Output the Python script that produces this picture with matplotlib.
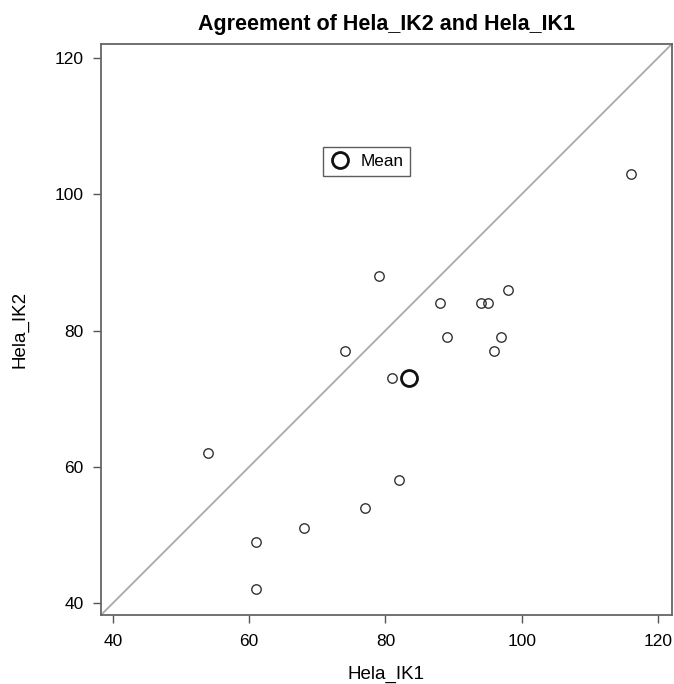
import matplotlib
matplotlib.use("Agg")
import matplotlib.pyplot as plt
from matplotlib.lines import Line2D

# values
hela_ik1 = [54, 61, 61, 68, 74, 77, 79, 81, 82, 88, 89, 94, 95, 96, 97, 98, 116]
hela_ik2 = [62, 49, 42, 51, 77, 54, 88, 73, 58, 84, 79, 84, 84, 77, 79, 86, 103]
mean_ik1 = 83.4
mean_ik2 = 73.0
ticks = [40, 60, 80, 100, 120]

plt.rcParams['font.family'] = ['Liberation Sans', 'DejaVu Sans']

fig = plt.figure(figsize=(6.74, 6.84), dpi=100)
ax = fig.add_axes([0.1499, 0.1009, 0.8464, 0.8343])

lo, hi = 38.25, 122.0
ax.set_xlim(lo, hi)
ax.set_ylim(lo, hi)

# line of agreement
ax.axline((lo, lo), slope=1, color='#aaaaaa', lw=1.3, zorder=1)

ax.plot(hela_ik1, hela_ik2, 'o', ms=6.8, mfc='none', mec='#333333', mew=1.0, zorder=3)
ax.plot([mean_ik1], [mean_ik2], 'o', ms=11.5, mfc='none', mec='#111111', mew=2.0, zorder=4)

handle = Line2D([], [], ls='none', marker='o', ms=11.5, mfc='none', mec='#111111', mew=2.0)
leg = ax.legend([handle], ['Mean'], loc='center', bbox_to_anchor=(0.465, 0.795),
                fontsize=12.3, frameon=True, fancybox=False, borderpad=0.4,
                handlelength=1.2, handletextpad=0.6, borderaxespad=0)
leg.get_frame().set_edgecolor('#333333')
leg.get_frame().set_linewidth(1.0)

ax.set_xticks(ticks)
ax.set_yticks(ticks)
ax.tick_params(length=6, width=1.0, color='#555555', labelsize=12.5)
ax.tick_params(axis='x', pad=8)
ax.tick_params(axis='y', pad=6.5)
for sp in ax.spines.values():
    sp.set_color('#666666')
    sp.set_linewidth(1.3)

ax.set_xlabel('Hela_IK1', fontsize=13.5, labelpad=11.5)
ax.set_ylabel('Hela_IK2', fontsize=13.5, labelpad=19)
ax.set_title('Agreement of Hela_IK2 and Hela_IK1', fontsize=15.5, fontweight='bold', pad=10)

fig.savefig('out.png', dpi=100)
